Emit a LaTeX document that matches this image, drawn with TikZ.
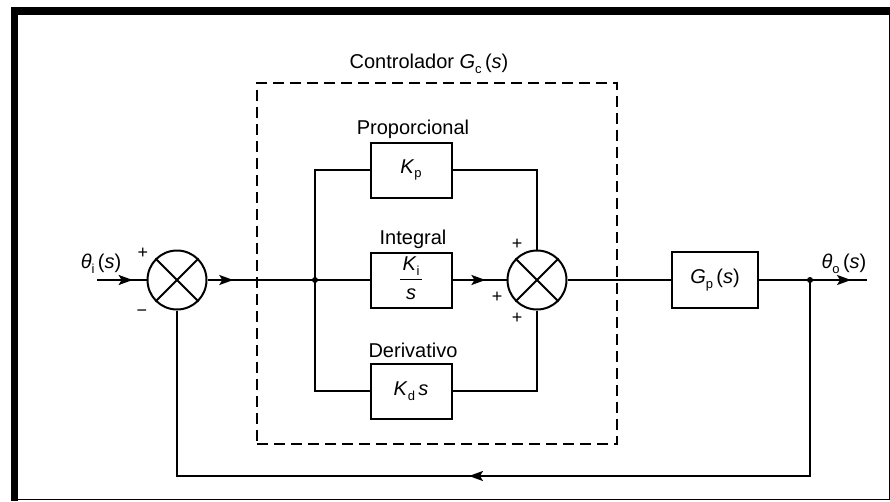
\documentclass[tikz,border=0pt]{standalone}
\usepackage{fontspec}
\setmainfont{Liberation Sans}
\usetikzlibrary{arrows.meta,decorations.markings}
\newcommand\subx[1]{\raisebox{-0.45ex}{\fontsize{13}{13}\selectfont #1}}
\begin{document}
\begin{tikzpicture}[x=1pt,y=-1pt, line width=2pt,
  every node/.style={font=\fontsize{20}{24}\selectfont, inner sep=0pt},
  blk/.style={draw, rectangle, minimum width=81pt, minimum height=55pt},
  summ/.style={draw, circle, minimum size=59pt},
  sgn/.style={font=\fontsize{18}{18}\selectfont},
  arrowat/.style={postaction={decorate}, decoration={markings, mark=at position #1 with {\arrow{Stealth[length=14pt,width=10pt,inset=3pt]}}}},
  dot/.style={circle, fill, minimum size=6pt},
  ctlbox/.style={draw, line width=2pt, dash pattern=on 11pt off 6pt, minimum width=360pt, minimum height=361pt}]
\useasboundingbox (0,0) rectangle (890,501);
% frame
\draw[line width=8pt] (11,11) -- (890,11);
\draw[line width=7pt] (14.5,7) -- (14.5,501);
\draw[line width=1.5pt] (11,499.5) -- (889.5,499.5) -- (889.5,7);
% controller box
\node[ctlbox] (ctl) at (437,263.5) {};
\node (title) at (429,64) {Controlador \textit{G}\subx{c}\,(\textit{s})};
% summing junctions
\node[summ] (s1) at (177,280) {};
\node[summ] (s2) at (537,280) {};
\foreach \s in {s1,s2}{
  \draw (\s.north west) -- (\s.south east) (\s.north east) -- (\s.south west);
}
% blocks
\node[blk] (kp) at (411,170) {\textit{K}\subx{p}};
\node[blk] (ki) at (411,280) {\begin{tabular}{@{}c@{}}\textit{K}\subx{i}\\[-14pt]\rule{22pt}{1pt}\\[-5pt]\textit{s}\end{tabular}};
\node[blk] (kd) at (411,391) {\textit{K}\subx{d}\,\textit{s}};
\node[blk, minimum width=86pt, minimum height=56pt] (gp) at (715,280) {\textit{G}\subx{p}\,(\textit{s})};
% labels
\node (pl) at (413,129) {Proporcional};
\node (il) at (413,239) {Integral};
\node (dl) at (413,350) {Derivativo};
\node (ti) at (101,264) {\textit{θ}\subx{i}\,(\textit{s})};
\node (to) at (844,264) {\textit{θ}\subx{o}\,(\textit{s})};
% signs
\node[sgn] (p1) at (143,253) {+};
\node[sgn] (m1) at (142,313) {−};
\node[sgn] (p2) at (517,244) {+};
\node[sgn] (p3) at (497,297) {+};
\node[sgn] (p4) at (517,318) {+};
% points
\coordinate (in) at (97,280);
\node[dot] (b1) at (315,280) {};
\node[dot] (b2) at (810,280) {};
\coordinate (out) at (867,280);
\coordinate (fbl) at (177,476);
% connectors
\draw[arrowat=0.72] (in) -- (s1.west);
\draw[arrowat=0.24] (s1.east) -- (b1.center);
\draw (b1.center) |- (kp.west);
\draw (b1.center) |- (kd.west);
\draw (b1.center) -- (ki.west);
\draw[arrowat=0.61] (ki.east) -- (s2.west);
\draw (kp.east) -| (s2.north);
\draw (kd.east) -| (s2.south);
\draw (s2.east) -- (gp.west);
\draw (gp.east) -- (b2.center);
\draw[arrowat=0.72] (b2.center) -- (out);
\draw[arrowat=0.54] (b2.center) |- (fbl) -- (s1.south);
\end{tikzpicture}
\end{document}
